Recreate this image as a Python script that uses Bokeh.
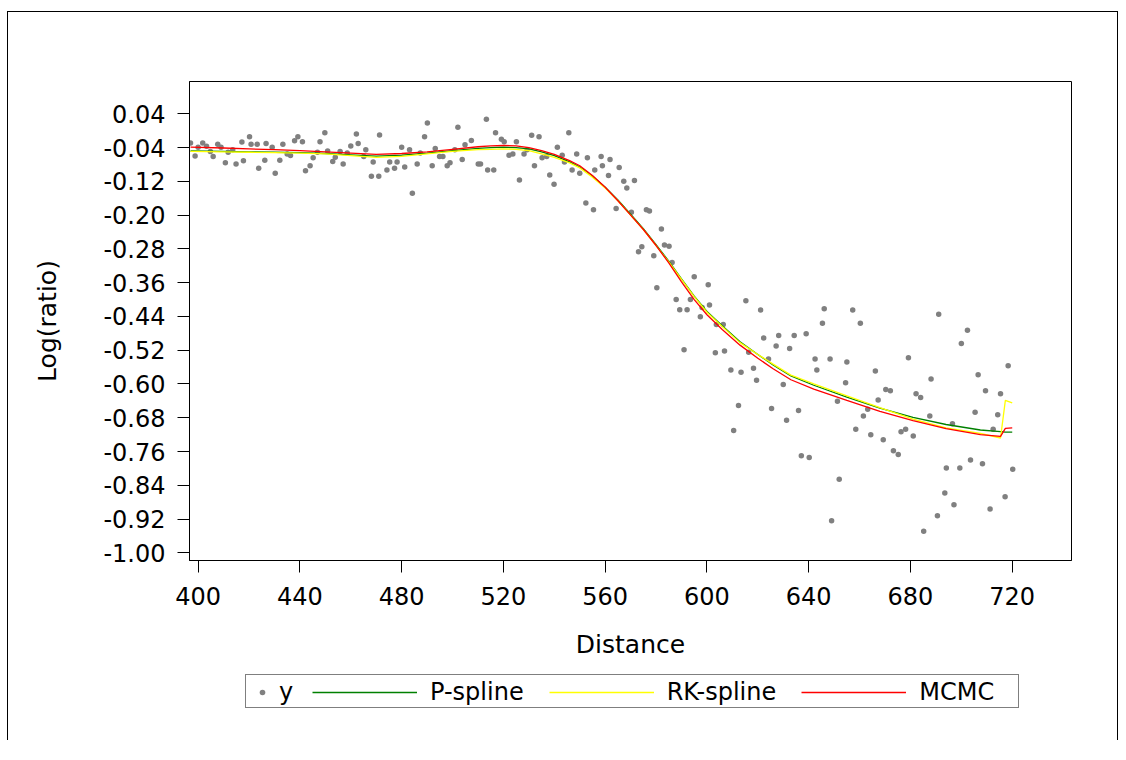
from bokeh.plotting import figure
from bokeh.layouts import column
from bokeh.models import (ColumnDataSource, FixedTicker, PrintfTickFormatter,
                          Legend, LegendItem, Range1d)
from bokeh.embed import file_html
from bokeh.resources import INLINE

# ---------------- data ----------------
x_ticks = [400, 440, 480, 520, 560, 600, 640, 680, 720]
y_ticks = [0.04, -0.04, -0.12, -0.20, -0.28, -0.36, -0.44, -0.52,
           -0.60, -0.68, -0.76, -0.84, -0.92, -1.00]

distance = [
    397.0, 398.8, 400.0, 401.8, 403.3, 404.8, 405.9, 407.7, 409.0, 410.7,
    411.8, 413.6, 414.9, 417.2, 417.8, 420.2, 420.8, 423.2, 423.8, 426.2,
    426.7, 429.1, 430.3, 432.1, 433.3, 435.0, 436.3, 437.9, 439.2, 441.0,
    442.2, 444.0, 445.2, 446.9, 447.9, 449.8, 450.9, 452.9, 453.9, 455.8,
    457.0, 458.6, 460.0, 462.2, 462.9, 465.1, 465.9, 468.1, 468.8, 471.0,
    471.3, 474.2, 475.3, 477.2, 478.2, 480.0, 481.2, 483.1, 484.2, 486.1,
    487.3, 489.0, 490.1, 492.0, 493.2, 494.9, 496.2, 497.9, 499.0, 500.9,
    502.1, 503.8, 504.9, 507.4, 510.1, 511.0, 513.3, 513.8, 516.2, 516.9,
    519.2, 520.3, 522.2, 523.7, 525.1, 526.3, 528.1, 529.3, 531.1, 532.2,
    534.0, 535.2, 537.0, 538.2, 539.9, 541.2, 543.1, 544.0, 545.7,
    547.0, 548.8, 550.0, 552.4, 553.0, 555.4, 555.9, 558.4, 558.9, 561.3,
    561.9, 564.3, 565.5, 567.3, 568.5, 570.3, 571.5, 573.1, 574.4, 576.2,
    577.4, 579.1, 580.3, 582.1, 583.3, 585.1, 586.3, 587.9, 589.3, 591.0,
    592.2, 593.5, 595.0, 597.4, 598.1, 600.5, 601.0, 603.3, 603.7, 606.4,
    606.9, 609.4, 610.5, 612.4, 613.4, 615.3, 616.4, 618.3, 619.5, 621.1,
    622.3, 624.2, 625.4, 627.2, 628.2, 630.0, 631.3, 632.5, 634.3, 636.0,
    637.1, 639.0, 640.2, 642.5, 643.2, 645.4, 646.1, 648.4, 649.0, 651.3,
    652.0, 654.5, 655.0, 657.3, 658.5, 660.3, 661.5, 663.2, 664.4, 666.2,
    667.3, 669.3, 670.3, 672.1, 673.3, 675.2, 676.3, 678.1, 679.2, 681.1,
    682.2, 684.0, 685.2, 687.6, 688.1, 690.6, 691.1, 693.5, 694.1, 696.5,
    697.1, 699.4, 700.0, 702.4, 703.6, 705.4, 706.6, 708.3, 709.5, 711.3,
    712.5, 714.3, 715.4, 717.2, 718.4, 720.2,
]
log_ratio = [
    -0.029, -0.060, -0.039, -0.029, -0.037, -0.049, -0.061, -0.032, -0.039, -0.076,
    -0.051, -0.045, -0.079, -0.027, -0.071, -0.014, -0.032, -0.032, -0.089, -0.070,
    -0.030, -0.039, -0.101, -0.070, -0.032, -0.055, -0.059, -0.024, -0.014, -0.026,
    -0.095, -0.083, -0.064, -0.051, -0.026, -0.005, -0.048, -0.073, -0.063, -0.049,
    -0.079, -0.053, -0.036, -0.008, -0.030, -0.061, -0.045, -0.108, -0.074, -0.108,
    -0.010, -0.093, -0.074, -0.089, -0.074, -0.039, -0.086, -0.045, -0.148, -0.079,
    -0.053, -0.014, 0.018, -0.083, -0.042, -0.061, -0.061, -0.083, -0.076, -0.045,
    0.008, -0.068, -0.033, -0.023, -0.079, -0.079, 0.027, -0.093, -0.093, -0.005,
    -0.020, -0.026, -0.058, -0.055, -0.026, -0.117, -0.055, -0.045, -0.011, -0.083,
    -0.014, -0.064, -0.061, -0.105, -0.127, -0.039, -0.058, -0.074, -0.005,
    -0.093, -0.055, -0.101, -0.171, -0.064, -0.187, -0.093, -0.061, -0.083, -0.106,
    -0.068, -0.184, -0.087, -0.120, -0.136, -0.193, -0.118, -0.287, -0.275, -0.187,
    -0.190, -0.296, -0.372, -0.233, -0.271, -0.274, -0.312, -0.400, -0.424, -0.519,
    -0.424, -0.400, -0.346, -0.441, -0.419, -0.365, -0.413, -0.526, -0.459, -0.459,
    -0.522, -0.567, -0.710, -0.651, -0.572, -0.403, -0.525, -0.563, -0.591, -0.425,
    -0.491, -0.541, -0.658, -0.510, -0.485, -0.601, -0.686, -0.516, -0.485, -0.663,
    -0.770, -0.481, -0.774, -0.541, -0.567, -0.456, -0.422, -0.541, -0.924, -0.641,
    -0.826, -0.597, -0.548, -0.425, -0.707, -0.456, -0.676, -0.660, -0.720, -0.569,
    -0.638, -0.732, -0.613, -0.616, -0.758, -0.767, -0.713, -0.707, -0.538, -0.723,
    -0.623, -0.632, -0.949, -0.676, -0.588, -0.912, -0.435, -0.858, -0.799, -0.694,
    -0.886, -0.799, -0.504, -0.473, -0.780, -0.667, -0.578, -0.789, -0.616, -0.896,
    -0.707, -0.673, -0.623, -0.867, -0.557, -0.802,
]

curve_x = [397, 410, 420, 430, 440, 450, 460, 470, 480, 490, 500, 510, 515, 520,
           525, 530, 535, 540, 546, 550, 555, 560, 565, 570, 575, 580, 585, 590,
           595, 600, 606, 613, 620, 626, 633, 642, 655, 668, 681, 694, 707.5,
           715.4, 717.3, 720]
p_spline = [-0.048, -0.049, -0.050, -0.051, -0.052, -0.054, -0.057, -0.060, -0.058,
            -0.053, -0.047, -0.042, -0.040, -0.039, -0.040, -0.043, -0.050, -0.059,
            -0.074, -0.086, -0.108, -0.134, -0.164, -0.198, -0.232, -0.270, -0.309,
            -0.351, -0.392, -0.428, -0.462, -0.500, -0.530, -0.555, -0.581, -0.603,
            -0.631, -0.657, -0.679, -0.696, -0.709, -0.713, -0.714, -0.714]
rk_spline = [-0.049, -0.050, -0.051, -0.052, -0.053, -0.055, -0.059, -0.063, -0.061,
             -0.055, -0.049, -0.045, -0.044, -0.043, -0.044, -0.047, -0.055, -0.063,
             -0.076, -0.088, -0.110, -0.136, -0.166, -0.200, -0.234, -0.272, -0.311,
             -0.352, -0.393, -0.430, -0.464, -0.502, -0.530, -0.553, -0.579, -0.600,
             -0.628, -0.656, -0.683, -0.704, -0.717, -0.728, -0.639, -0.645]
mcmc = [-0.039, -0.041, -0.043, -0.045, -0.047, -0.050, -0.053, -0.056, -0.054,
        -0.050, -0.044, -0.038, -0.036, -0.035, -0.036, -0.040, -0.047, -0.056,
        -0.071, -0.083, -0.106, -0.134, -0.166, -0.200, -0.234, -0.272, -0.313,
        -0.358, -0.400, -0.436, -0.471, -0.508, -0.539, -0.564, -0.590, -0.612,
        -0.639, -0.665, -0.687, -0.706, -0.720, -0.724, -0.705, -0.704]

series_labels = ["y", "P-spline", "RK-spline", "MCMC"]
series_colors = ["#808080", "#008000", "#FFFF00", "#FF0000"]

FONT = "DejaVu Sans"
W = 1109

# ---------------- main figure ----------------
p = figure(width=W, height=658, output_backend="svg", toolbar_location=None,
           x_range=Range1d(396.6, 743.3), y_range=Range1d(-1.0182, 0.1166),
           min_border_left=181, min_border_right=46, min_border_top=69,
           min_border_bottom=110)
p.background_fill_color = "white"
p.border_fill_color = "white"
p.outline_line_color = "black"
p.outline_line_width = 1
p.outline_line_alpha = 1
p.xgrid.visible = False
p.ygrid.visible = False

for ax in (p.xaxis[0], p.yaxis[0]):
    ax.axis_line_color = "black"
    ax.major_tick_line_color = "black"
    ax.major_tick_out = 12
    ax.major_tick_in = 0
    ax.minor_tick_out = 0
    ax.minor_tick_in = 0
    ax.major_label_text_font = FONT
    ax.major_label_text_font_size = "24px"
    ax.major_label_text_color = "black"
    ax.axis_label_text_font = FONT
    ax.axis_label_text_font_size = "25px"
    ax.axis_label_text_font_style = "normal"
    ax.axis_label_text_color = "black"

p.xaxis.ticker = FixedTicker(ticks=x_ticks)
p.yaxis.ticker = FixedTicker(ticks=y_ticks)
p.yaxis.formatter = PrintfTickFormatter(format="%.2f")
p.xaxis.axis_label = "Distance"
p.yaxis.axis_label = "Log(ratio)"
p.xaxis.major_label_standoff = 14
p.yaxis.major_label_standoff = 12
p.xaxis.axis_label_standoff = 22
p.yaxis.axis_label_standoff = 38

pts = ColumnDataSource(dict(x=distance, y=log_ratio))
p.scatter("x", "y", source=pts, size=5.5, fill_color=series_colors[0],
          line_color=None)
crv = ColumnDataSource(dict(x=curve_x, ps=p_spline, rk=rk_spline, mc=mcmc))
p.line("x", "ps", source=crv, line_color=series_colors[1], line_width=1.3)
p.line("x", "rk", source=crv, line_color=series_colors[2], line_width=1.3)
p.line("x", "mc", source=crv, line_color=series_colors[3], line_width=1.3)

# ---------------- legend strip (frame is aligned with the main frame) ----------------
q = figure(width=W, height=70, output_backend="svg", toolbar_location=None,
           x_range=Range1d(0, 1), y_range=Range1d(0, 1),
           x_axis_type=None, y_axis_type=None,
           min_border_left=181, min_border_right=46, min_border_top=0,
           min_border_bottom=0)
q.outline_line_color = None
q.xgrid.visible = False
q.ygrid.visible = False
q.background_fill_color = "white"
q.border_fill_color = "white"

# proxy renderers (outside the visible range) carrying the legend styles
q_pts = q.scatter(x=[5], y=[5], size=5.5, fill_color=series_colors[0], line_color=None)
q_ps = q.line(x=[5, 6], y=[5, 5], line_color=series_colors[1], line_width=1.3)
q_rk = q.line(x=[5, 6], y=[5, 5], line_color=series_colors[2], line_width=1.3)
q_mc = q.line(x=[5, 6], y=[5, 5], line_color=series_colors[3], line_width=1.3)
q_inv = q.scatter(x=[5], y=[5], size=1, alpha=0)

box = Legend(items=[LegendItem(label=" ", renderers=[q_inv])], location=(56, 32),
             padding=0, margin=0, glyph_width=0, glyph_height=32, label_width=772,
             label_height=32, label_standoff=0, label_text_font_size="8px",
             label_text_alpha=0, border_line_color="black", border_line_width=1,
             background_fill_color="white", background_fill_alpha=1)
leg1 = Legend(items=[LegendItem(label=series_labels[0], renderers=[q_pts])],
              location=(66, 34), orientation="horizontal", padding=0, margin=0,
              glyph_width=14, glyph_height=28, label_height=28, label_standoff=10,
              spacing=0, border_line_alpha=0, background_fill_alpha=0,
              label_text_font=FONT, label_text_font_size="24px",
              label_text_color="black")
leg2 = Legend(items=[LegendItem(label=series_labels[1], renderers=[q_ps]),
                     LegendItem(label=series_labels[2], renderers=[q_rk]),
                     LegendItem(label=series_labels[3], renderers=[q_mc])],
              location=(123, 34), orientation="horizontal", padding=0, margin=0,
              glyph_width=105, glyph_height=28, label_height=28, label_standoff=13,
              spacing=25, border_line_alpha=0, background_fill_alpha=0,
              label_text_font=FONT, label_text_font_size="24px",
              label_text_color="black")
q.add_layout(box, "center")
q.add_layout(leg1, "center")
q.add_layout(leg2, "center")

page = column(p, q, spacing=0, margin=(11, 0, 0, 7))
page.styles = {"border-left": "1px solid black", "border-top": "1px solid black",
               "border-right": "1px solid black"}

open("out.html", "w").write(file_html(page, INLINE))
